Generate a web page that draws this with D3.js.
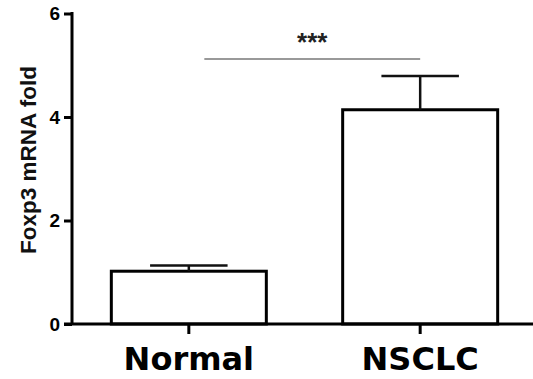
<!DOCTYPE html>
<html>
<head>
<meta charset="utf-8">
<script src="https://cdn.jsdelivr.net/npm/d3@7"></script>
<style>
  body { margin: 0; background: #fff; }
  svg { display: block; }
</style>
</head>
<body>
<div id="chart"></div>
<script>
const groups = ['Normal', 'NSCLC'];
const means = [1.02, 4.14];
const errors = [0.11, 0.65];
const yTicks = [0, 2, 4, 6];
const yLabel = 'Foxp3 mRNA fold';
const sigLabel = '***';

const W = 533, H = 379;
const x0 = 72, yBase = 324;

const svg = d3.select('#chart').append('svg')
    .attr('width', W)
    .attr('height', H);

const x = d3.scaleBand().domain(groups).range([x0, 537]).paddingInner(0.33).paddingOuter(0.17);
const y = d3.scaleLinear().domain([0, 6]).range([yBase, 13.5]);

// bars
svg.append('g')
    .selectAll('rect')
    .data(groups)
    .enter().append('rect')
    .attr('x', d => x(d))
    .attr('y', (d, i) => y(means[i]))
    .attr('width', x.bandwidth())
    .attr('height', (d, i) => yBase - y(means[i]))
    .attr('fill', '#fff')
    .attr('stroke', '#000')
    .attr('stroke-width', 3);

// error bars (upper only)
const err = svg.append('g').attr('stroke', '#111').attr('stroke-width', 2.5);
groups.forEach((g, i) => {
    const cx = x(g) + x.bandwidth() / 2;
    const capW = x.bandwidth() / 2;
    err.append('line')
        .attr('x1', cx).attr('x2', cx)
        .attr('y1', y(means[i])).attr('y2', y(means[i] + errors[i]));
    err.append('line')
        .attr('x1', cx - capW / 2).attr('x2', cx + capW / 2)
        .attr('y1', y(means[i] + errors[i])).attr('y2', y(means[i] + errors[i]));
});

// Y axis
const yAxis = svg.append('g')
    .attr('transform', `translate(${x0},0)`)
    .call(d3.axisLeft(y).tickValues(yTicks).tickFormat(d3.format('d'))
        .tickSize(8).tickPadding(4).tickSizeOuter(0));
yAxis.select('.domain').attr('stroke', '#000').attr('stroke-width', 3)
    .attr('d', `M0,${y(6) - 1.5}V${yBase}`);
yAxis.selectAll('.tick line')
    .attr('stroke', '#000')
    .attr('stroke-width', 3);
yAxis.selectAll('.tick text')
    .style('font-family', '"Liberation Sans", Arial, sans-serif')
    .style('font-weight', 'bold')
    .style('font-size', '19px')
    .attr('fill', '#000');

// X axis
const xAxis = svg.append('g')
    .attr('transform', `translate(0,${yBase})`)
    .call(d3.axisBottom(x).tickSize(10).tickPadding(4).tickSizeOuter(0));
xAxis.select('.domain').attr('stroke', '#000').attr('stroke-width', 3)
    .attr('d', `M${x0 - 8},0H${W}`);
xAxis.selectAll('.tick line').attr('stroke', '#000').attr('stroke-width', 3);
xAxis.selectAll('.tick text')
    .style('font-family', '"DejaVu Sans", Verdana, sans-serif')
    .style('font-weight', 'bold')
    .style('font-size', '32px')
    .attr('fill', '#000')
    .attr('dy', null)
    .attr('y', 46);

// Y axis title
svg.append('text')
    .attr('transform', `translate(36,160) rotate(-90)`)
    .attr('text-anchor', 'middle')
    .style('font-family', '"Liberation Sans", Arial, sans-serif')
    .style('font-weight', 'bold')
    .style('font-size', '22.5px')
    .attr('fill', '#111')
    .text(yLabel);

// significance
const sx1 = x(groups[0]) + x.bandwidth() * 0.6;
const sx2 = x(groups[1]) + x.bandwidth() / 2;
svg.append('line')
    .attr('x1', sx1).attr('x2', sx2)
    .attr('y1', 59).attr('y2', 59)
    .attr('stroke', '#777')
    .attr('stroke-width', 1.5);
svg.append('text')
    .attr('x', (sx1 + sx2) / 2)
    .attr('y', 51)
    .attr('text-anchor', 'middle')
    .style('font-family', '"Liberation Sans", Arial, sans-serif')
    .style('font-weight', 'bold')
    .style('font-size', '26px')
    .attr('fill', '#222')
    .text(sigLabel);
</script>
</body>
</html>
